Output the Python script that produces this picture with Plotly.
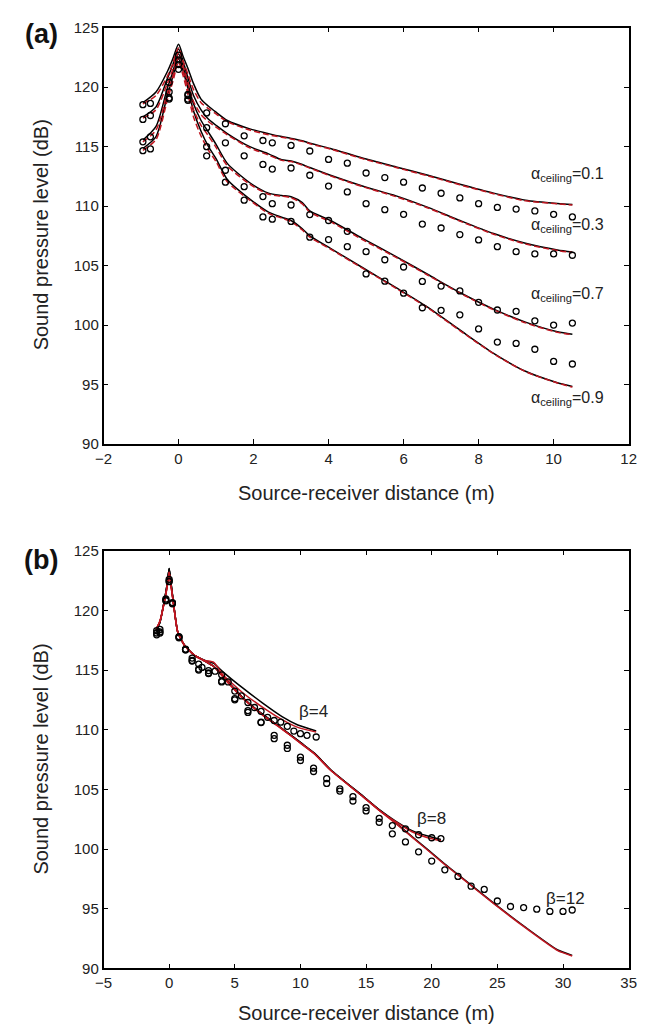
import plotly.graph_objects as go

# ---------------- Panel (a) data ----------------
xa_line = [-0.95, -0.6, -0.3, -0.15, 0, 0.12, 0.25, 0.4, 0.6, 0.8, 1.0, 1.3, 1.9, 2.4,
           2.75, 3.0, 3.3, 3.5, 4.05, 4.9, 5.8, 6.65, 7.5, 8.4, 9.25, 10.1, 10.5]

a01_black = [118.7, 119.6, 121.3, 122.4, 123.6, 122.6, 121.6, 120.3, 119.0, 118.4, 117.9, 117.2,
             116.5, 116.1, 115.85, 115.7, 115.5, 115.3, 114.85, 114.05, 113.3, 112.6, 111.85,
             111.1, 110.5, 110.23, 110.15]
a01_red = [118.6, 119.3, 120.9, 122.0, 123.3, 122.2, 121.1, 119.8, 118.7, 118.2, 117.75, 117.1,
           116.4, 116.0, 115.8, 115.65, 115.45, 115.25, 114.8, 114.0, 113.25, 112.55, 111.8,
           111.05, 110.45, 110.2, 110.1]
a03_black = [117.5, 118.35, 120.7, 121.9, 123.2, 122.2, 120.8, 119.3, 118.1, 117.3, 116.8, 116.1,
             115.0, 114.4, 113.9, 113.8, 113.5, 113.25, 112.6, 111.7, 110.87, 109.9, 108.8,
             107.7, 106.88, 106.32, 106.15]
a03_red = [117.4, 118.1, 120.3, 121.5, 122.9, 121.8, 120.4, 118.8, 117.7, 117.1, 116.65, 116.0,
           114.9, 114.3, 113.85, 113.75, 113.45, 113.2, 112.55, 111.65, 110.8, 109.85, 108.75,
           107.65, 106.82, 106.27, 106.1]
a07_black = [115.55, 116.7, 119.9, 121.3, 122.8, 121.8, 120.3, 118.6, 117.2, 116.2, 115.2, 113.6,
             111.97, 111.1, 110.9, 110.8, 110.3, 109.6, 108.8, 107.3, 105.77, 104.26, 102.75,
             101.35, 100.26, 99.45, 99.25]
a07_red = [115.4, 116.4, 119.5, 120.9, 122.5, 121.4, 119.8, 118.1, 116.8, 115.9, 114.95, 113.4,
           111.85, 111.0, 110.85, 110.7, 110.2, 109.5, 108.7, 107.2, 105.7, 104.2, 102.7,
           101.3, 100.2, 99.4, 99.2]
a09_black = [114.85, 115.85, 119.3, 120.9, 122.4, 121.4, 119.9, 118.0, 116.3, 115.0, 114.0, 112.25,
             110.6, 109.5, 109.07, 108.8, 108.1, 107.5, 106.46, 104.85, 103.15, 101.5, 99.6,
             97.64, 96.13, 95.17, 94.85]
a09_red = [114.7, 115.6, 118.9, 120.5, 122.1, 121.0, 119.4, 117.5, 115.9, 114.7, 113.75, 112.05,
           110.5, 109.4, 109.0, 108.7, 108.0, 107.4, 106.4, 104.8, 103.1, 101.45, 99.55,
           97.6, 96.1, 95.15, 94.8]

xa_mk = [-0.95, -0.75, -0.25, 0, 0.25, 0.75, 1.25, 1.75, 2.25, 2.5, 3.0, 3.5, 4.0, 4.5, 5.0,
         5.5, 6.0, 6.5, 7.0, 7.5, 8.0, 8.5, 9.0, 9.5, 10.0, 10.5]
a01_mk = [118.53, 118.64, 120.4, 122.7, 119.4, 117.84, 116.93, 115.91, 115.52, 115.33, 115.11,
          114.64, 113.93, 113.62, 112.79, 112.41, 112.02, 111.53, 111.09, 110.70, 110.21, 109.90,
          109.76, 109.60, 109.32, 109.10]
a03_mk = [117.29, 117.62, 119.6, 122.3, 119.3, 116.6, 115.33, 114.23, 113.51, 113.12, 113.21,
          112.6, 111.69, 111.2, 110.21, 109.71, 109.32, 108.5, 108.17, 107.62, 107.17, 106.6,
          106.18, 105.99, 105.99, 105.88]
a07_mk = [115.41, 115.83, 119.1, 121.9, 119.0, 115.0, 113.02, 111.64, 110.81, 110.21, 110.1,
          109.3, 108.8, 107.89, 106.18, 105.5, 104.89, 103.68, 103.29, 102.88, 101.92, 101.28,
          101.17, 100.37, 100.01, 100.18]
a09_mk = [114.67, 114.81, 119.0, 121.5, 118.9, 114.23, 112.02, 110.51, 109.1, 108.91, 108.72,
          107.4, 107.2, 106.6, 104.31, 103.7, 102.69, 101.47, 101.25, 100.87, 99.69, 98.58,
          98.47, 97.98, 96.96, 96.74]

a_labels = ["α<sub>ceiling</sub>=0.1", "α<sub>ceiling</sub>=0.3",
            "α<sub>ceiling</sub>=0.7", "α<sub>ceiling</sub>=0.9"]
a_label_y = [112.7, 108.35, 102.62, 93.85]
a_label_x = 9.35

# ---------------- Panel (b) data ----------------
xb4_line = [-1.0, -0.7, -0.35, -0.15, 0, 0.15, 0.3, 0.65, 1.15, 1.9, 2.65, 3.4, 4.1, 5.6,
            7.1, 8.6, 9.8, 11.2]
b4_black = [118.3, 119.0, 120.9, 122.2, 123.5, 122.2, 120.9, 118.2, 117.1, 116.25, 115.85,
            115.55, 114.85, 113.5, 112.25, 111.1, 110.4, 109.9]
b4_red = [118.4, 119.1, 120.8, 122.0, 123.2, 122.0, 120.8, 118.2, 117.1, 116.25, 115.8,
          115.65, 114.6, 113.1, 111.9, 110.85, 110.2, 109.8]

xb8_line = [-1.0, -0.7, -0.35, -0.15, 0, 0.15, 0.3, 0.65, 1.15, 1.9, 2.65, 3.4, 4.4, 5.6,
            7.1, 8.6, 10.1, 11.1, 12.3, 14.8, 16.0, 17.25, 18.5, 19.7, 20.7]
b8_black = [118.3, 119.0, 120.9, 122.2, 123.5, 122.2, 120.9, 118.2, 117.1, 116.25, 115.8,
            115.3, 114.1, 112.7, 111.3, 110.1, 108.85, 108.0, 106.65, 104.4, 103.3, 102.35,
            101.55, 101.1, 100.8]
b8_red = [118.4, 119.1, 120.8, 122.0, 123.2, 122.0, 120.8, 118.2, 117.1, 116.25, 115.8,
          115.3, 114.05, 112.65, 111.25, 110.05, 108.8, 107.95, 106.6, 104.35, 103.25, 102.3,
          101.45, 100.95, 100.7]

xb12_line = [-1.0, -0.7, -0.35, -0.15, 0, 0.15, 0.3, 0.65, 1.15, 1.9, 2.65, 3.4, 4.4, 5.6,
             7.1, 8.6, 10.1, 11.1, 12.3, 14.8, 16.0, 17.25, 18.5, 19.7, 21.0, 22.2, 24.7,
             27.15, 29.6, 30.7]
b12_black = [118.3, 119.0, 120.9, 122.2, 123.5, 122.2, 120.9, 118.2, 117.1, 116.25, 115.8,
             115.3, 114.1, 112.7, 111.3, 110.1, 108.85, 108.0, 106.65, 104.4, 103.3, 102.2,
             101.05, 99.95, 98.75, 97.7, 95.5, 93.45, 91.55, 91.1]
b12_red = [118.4, 119.1, 120.8, 122.0, 123.2, 122.0, 120.8, 118.2, 117.1, 116.25, 115.8,
           115.3, 114.05, 112.65, 111.25, 110.05, 108.8, 107.95, 106.6, 104.35, 103.25, 102.15,
           101.0, 99.9, 98.7, 97.65, 95.45, 93.4, 91.5, 91.05]

xb4_mk = [-0.95, -0.7, -0.25, 0, 0.25, 0.75, 1.25, 1.75, 2.25, 2.5, 3.0, 3.5, 4.0, 4.5, 5.0,
          5.5, 6.0, 6.5, 7.0, 7.5, 8.0, 8.5, 9.0, 9.5, 10.0, 10.5, 11.2]
b4_mk = [118.3, 118.4, 120.95, 122.6, 120.65, 117.8, 116.75, 116.0, 115.5, 115.22, 114.95,
         114.9, 114.6, 114.0, 113.24, 112.83, 112.28, 111.86, 111.54, 111.04, 110.77, 110.63,
         110.28, 109.89, 109.67, 109.53, 109.39]
xb8_mk = [-0.95, -0.7, -0.25, 0, 0.25, 0.75, 1.25, 1.75, 2.25, 3.0, 4.0, 5.0, 6.0, 7.0, 8.0,
          9.0, 10.0, 11.0, 12.0, 13.0, 14.0, 15.0, 16.0, 17.0, 18.0, 19.0, 20.0, 20.7]
b8_mk = [118.1, 118.2, 120.85, 122.45, 120.6, 117.75, 116.7, 115.8, 115.07, 114.75, 114.07,
         112.6, 111.6, 110.63, 109.53, 108.7, 107.7, 106.78, 105.9, 105.05, 104.39, 103.48,
         102.58, 101.97, 101.7, 101.2, 100.95, 100.88]
xb12_mk = [-0.95, -0.7, -0.25, 0, 0.25, 0.75, 1.25, 1.75, 2.25, 3.0, 4.0, 5.0, 6.0, 7.0, 8.0,
           9.0, 10.0, 11.0, 12.0, 13.0, 14.0, 15.0, 16.0, 17.0, 18.0, 19.0, 20.0, 21.0, 22.0,
           23.0, 24.0, 25.0, 26.0, 27.0, 28.0, 29.0, 30.0, 30.7]
b12_mk = [117.95, 118.1, 120.8, 122.4, 120.55, 117.7, 116.7, 115.75, 115.0, 114.7, 114.0,
          112.5, 111.45, 110.6, 109.25, 108.43, 107.42, 106.5, 105.5, 104.86, 104.03, 103.2,
          102.25, 101.28, 100.6, 99.77, 99.0, 98.26, 97.71, 96.89, 96.62, 95.65, 95.19, 95.1,
          94.97, 94.78, 94.78, 94.9]

b_labels = ["β=4", "β=8", "β=12"]
b_label_x = [9.77, 18.73, 28.56]
b_label_y = [111.5, 102.55, 95.9]

# ---------------- Styles ----------------
FONT = "Liberation Sans, Arial, Helvetica, sans-serif"
RED = "rgb(192,22,32)"
BLACK = "black"

fig = go.Figure()

def add_line(x, y, color, dash, xa, ya, width=1.5, smooth=0.7):
    fig.add_trace(go.Scatter(x=x, y=y, mode="lines", xaxis=xa, yaxis=ya,
                             line=dict(color=color, width=width, dash=dash,
                                       shape="spline", smoothing=smooth),
                             showlegend=False, hoverinfo="skip"))

def add_markers(x, y, xa, ya):
    fig.add_trace(go.Scatter(x=x, y=y, mode="markers", xaxis=xa, yaxis=ya,
                             marker=dict(symbol="circle-open", size=6, color=BLACK,
                                         line=dict(width=1.3, color=BLACK)),
                             showlegend=False, hoverinfo="skip"))

# Panel (a)
for yb in (a01_black, a03_black, a07_black, a09_black):
    add_line(xa_line, yb, BLACK, "solid", "x", "y")
for yr in (a01_red, a03_red, a07_red, a09_red):
    add_line(xa_line, yr, RED, "6px,3px", "x", "y")
for ym in (a01_mk, a03_mk, a07_mk, a09_mk):
    add_markers(xa_mk, ym, "x", "y")

# Panel (b)
add_line(xb4_line, b4_black, BLACK, "solid", "x2", "y2", smooth=0.5)
add_line(xb8_line, b8_black, BLACK, "solid", "x2", "y2", smooth=0.5)
add_line(xb12_line, b12_black, BLACK, "solid", "x2", "y2", smooth=0.5)
add_line(xb4_line, b4_red, RED, "solid", "x2", "y2", smooth=0.5)
add_line(xb8_line, b8_red, RED, "solid", "x2", "y2", smooth=0.5)
add_line(xb12_line, b12_red, RED, "solid", "x2", "y2", smooth=0.5)
add_markers(xb4_mk, b4_mk, "x2", "y2")
add_markers(xb8_mk, b8_mk, "x2", "y2")
add_markers(xb12_mk, b12_mk, "x2", "y2")

W, H = 661, 1035
xdom = [97 / W, 636 / W]
ydom_a = [1 - 442.5 / H, 1 - 19 / H]
ydom_b = [1 - 975.5 / H, 1 - 550.7 / H]

axis_common = dict(showline=True, linecolor=BLACK, linewidth=1.5, mirror="ticks",
                   ticks="inside", ticklen=5, tickwidth=1, tickcolor=BLACK,
                   showgrid=False, zeroline=False,
                   tickfont=dict(family=FONT, size=15, color="#222"))

annotations = []
for txt, yv in zip(a_labels, a_label_y):
    annotations.append(dict(x=a_label_x, y=yv, xref="x", yref="y", text=txt,
                            showarrow=False, xanchor="left", yanchor="middle",
                            font=dict(family=FONT, size=16, color="#222")))
for txt, xv, yv in zip(b_labels, b_label_x, b_label_y):
    annotations.append(dict(x=xv, y=yv, xref="x2", yref="y2", text=txt,
                            showarrow=False, xanchor="left", yanchor="middle",
                            font=dict(family=FONT, size=17, color="#222")))

title_font = dict(family=FONT, size=20, color="#222")
annotations += [
    dict(x=33 / W, y=1 - 230 / H, xref="paper", yref="paper", text="Sound pressure level (dB)",
         textangle=-90, showarrow=False, xanchor="center", yanchor="middle", font=title_font),
    dict(x=367 / W, y=1 - 492 / H, xref="paper", yref="paper", text="Source-receiver distance (m)",
         showarrow=False, xanchor="center", yanchor="middle", font=title_font),
    dict(x=33 / W, y=1 - 763 / H, xref="paper", yref="paper", text="Sound pressure level (dB)",
         textangle=-90, showarrow=False, xanchor="center", yanchor="middle", font=title_font),
    dict(x=367 / W, y=1 - 1021 / H, xref="paper", yref="paper", text="Source-receiver distance (m)",
         showarrow=False, xanchor="center", yanchor="middle", font=title_font),
    dict(x=33 / W, y=1 - 25 / H, xref="paper", yref="paper", text="<b>(a)</b>",
         showarrow=False, xanchor="center", yanchor="middle",
         font=dict(family=FONT, size=27, color="#111")),
    dict(x=33 / W, y=1 - 560 / H, xref="paper", yref="paper", text="<b>(b)</b>",
         showarrow=False, xanchor="center", yanchor="middle",
         font=dict(family=FONT, size=27, color="#111")),
]

fig.update_layout(
    width=W, height=H, margin=dict(l=0, r=0, t=0, b=0),
    paper_bgcolor="white", plot_bgcolor="white", showlegend=False,
    xaxis=dict(domain=xdom, anchor="y", range=[-2, 12], dtick=2, tick0=-2, **axis_common),
    yaxis=dict(domain=ydom_a, anchor="x", range=[90, 125], dtick=5, tick0=90, **axis_common),
    xaxis2=dict(domain=xdom, anchor="y2", range=[-5, 35], dtick=5, tick0=-5, **axis_common),
    yaxis2=dict(domain=ydom_b, anchor="x2", range=[90, 125], dtick=5, tick0=90, **axis_common),
    annotations=annotations,
)

fig.write_html("out.html")
